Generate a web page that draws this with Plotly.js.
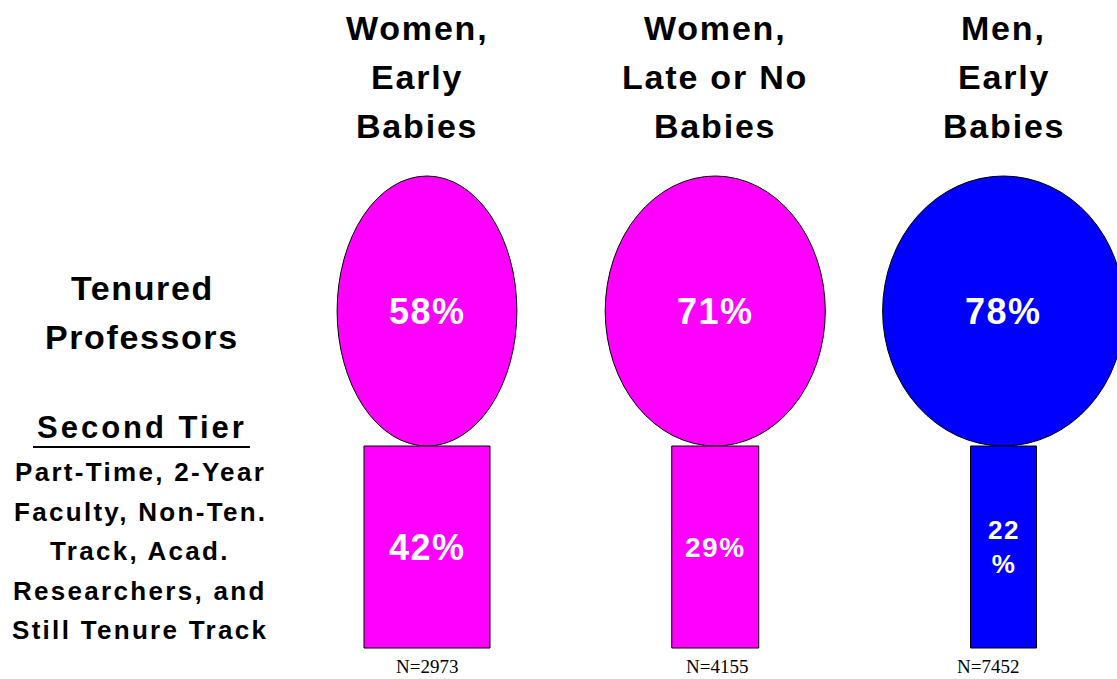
<!DOCTYPE html>
<html><head><meta charset="utf-8">
<script src="https://cdn.plot.ly/plotly-3.0.1.min.js"></script>
<style>html,body{margin:0;padding:0;background:#fff}</style>
</head><body><div id="chart" style="width:1117px;height:679px"></div>
<script>
// ---- data ----
const groups = ['Women,<br>Early<br>Babies', 'Women,<br>Late or No<br>Babies', 'Men,<br>Early<br>Babies'];
const tenured = [58, 71, 78];
const secondTier = [42, 29, 22];
const sampleSizes = [2973, 4155, 7452];
const tenuredLabels = tenured.map(v => v + '%');
const secondTierLabels = ['42%', '29%', '22<br>%'];
const rowLabelTop = ['Tenured', 'Professors'];
const rowLabelSecondTitle = 'Second Tier';
const rowLabelSecondLines = ['Part-Time, 2-Year', 'Faculty, Non-Ten.', 'Track, Acad.', 'Researchers, and', 'Still Tenure Track'];

// ---- style / layout config ----
const W = 1117, H = 679;
const colors = ['#FF00FF', '#FF00FF', '#0000FF'];
const pxPerUnit = 288.25;          // horizontal distance between group centres
const firstCenterPx = 427;
const ellipsePxPerPct = 3.1;       // ellipse width proportional to value
const rectPxPerPct = 3.0;          // bar width proportional to value
const ellipseTop = 176, ellipseBottom = 446, rectBottom = 648;
const secondTierFontSizes = [36, 28, 26];
const headerXShift = [-10, 0, 0];
const nXShift = [0, 2, -16];
const SANS = '"Liberation Sans", Arial, sans-serif';
const SERIF = '"Liberation Serif", "Times New Roman", serif';

const r0 = -firstCenterPx / pxPerUnit;
const r1 = r0 + W / pxPerUnit;
const track = (t, px) => `<span style="letter-spacing:${px}px">${t}</span>`;

const shapes = [];
const annotations = [];

groups.forEach((g, i) => {
  const ew = tenured[i] * ellipsePxPerPct / pxPerUnit;
  const rw = secondTier[i] * rectPxPerPct / pxPerUnit;
  shapes.push({type: 'circle', xref: 'x', yref: 'y', x0: i - ew / 2, x1: i + ew / 2,
    y0: ellipseTop, y1: ellipseBottom, fillcolor: colors[i], line: {color: '#000', width: 1}, layer: 'above'});
  shapes.push({type: 'rect', xref: 'x', yref: 'y', x0: i - rw / 2, x1: i + rw / 2,
    y0: ellipseBottom, y1: rectBottom, fillcolor: colors[i], line: {color: '#000', width: 1}, layer: 'above'});

  g.split('<br>').forEach((line, j) => {
    annotations.push({xref: 'x', yref: 'y', x: i, xshift: headerXShift[i], y: 28 + j * 49, text: track(line, 1.8),
      showarrow: false, xanchor: 'center', yanchor: 'middle',
      font: {family: SANS, size: 34, weight: 700, color: '#000'}});
  });

  annotations.push({xref: 'x', yref: 'y', x: i, y: (ellipseTop + ellipseBottom) / 2, text: track(tenuredLabels[i], 1.5),
    showarrow: false, xanchor: 'center', yanchor: 'middle',
    font: {family: SANS, size: 36, weight: 700, color: '#FFFFFF'}});
  annotations.push({xref: 'x', yref: 'y', x: i, y: (ellipseBottom + rectBottom) / 2, text: track(secondTierLabels[i], 1.5),
    showarrow: false, xanchor: 'center', yanchor: 'middle',
    font: {family: SANS, size: secondTierFontSizes[i], weight: 700, color: '#FFFFFF'}});
  annotations.push({xref: 'x', yref: 'y', x: i, xshift: nXShift[i], y: 666, text: 'N=' + sampleSizes[i],
    showarrow: false, xanchor: 'center', yanchor: 'middle',
    font: {family: SERIF, size: 19, color: '#000'}});
});

const leftX = 142 / W;
rowLabelTop.forEach((t, j) => {
  annotations.push({xref: 'paper', yref: 'y', x: leftX, y: 288 + j * 49, text: track(t, 1.6),
    showarrow: false, xanchor: 'center', yanchor: 'middle',
    font: {family: SANS, size: 34, weight: 700, color: '#000'}});
});
annotations.push({xref: 'paper', yref: 'y', x: leftX, y: 427, text: track(rowLabelSecondTitle, 3),
  showarrow: false, xanchor: 'center', yanchor: 'middle',
  font: {family: SANS, size: 31, weight: 700, color: '#000'}});
shapes.push({type: 'line', xref: 'paper', yref: 'y', x0: 33 / W, x1: 250 / W, y0: 447, y1: 447,
  line: {color: '#000', width: 2}});
rowLabelSecondLines.forEach((t, j) => {
  annotations.push({xref: 'paper', yref: 'y', x: 140 / W, y: 472 + j * 39.6, text: track(t, 2.3),
    showarrow: false, xanchor: 'center', yanchor: 'middle',
    font: {family: SANS, size: 26, weight: 700, color: '#000'}});
});

const trace = {x: groups.map((g, i) => i), y: groups.map(() => (ellipseTop + ellipseBottom) / 2),
  type: 'scatter', mode: 'markers', marker: {opacity: 0}, hoverinfo: 'skip', showlegend: false};

const layout = {
  width: W, height: H, margin: {l: 0, r: 0, t: 0, b: 0},
  paper_bgcolor: '#fff', plot_bgcolor: '#fff', showlegend: false,
  xaxis: {range: [r0, r1], visible: false, fixedrange: true},
  yaxis: {range: [H, 0], visible: false, fixedrange: true},
  shapes: shapes, annotations: annotations
};
Plotly.newPlot('chart', [trace], layout, {staticPlot: true, displayModeBar: false});
</script></body></html>
